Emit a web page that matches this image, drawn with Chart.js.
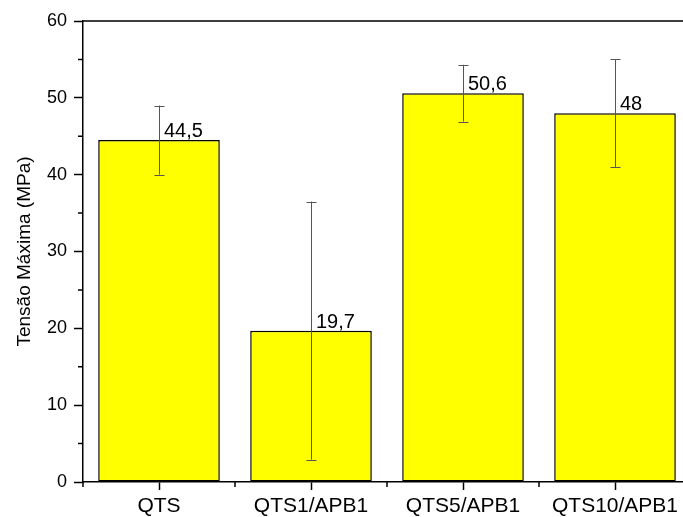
<!DOCTYPE html>
<html>
<head>
<meta charset="utf-8">
<script src="https://cdn.jsdelivr.net/npm/chart.js@4"></script>
<style>
  html, body { margin: 0; padding: 0; background: #fff; overflow: hidden; }
  canvas { display: block; }
</style>
</head>
<body>
<canvas id="barChart" width="700" height="517"></canvas>
<script>
var categories = ["QTS", "QTS1/APB1", "QTS5/APB1", "QTS10/APB1"];
var tensao = [44.5, 19.7, 50.6, 48];
var desvio = [4.5, 16.8, 3.7, 7];
var valueLabels = ["44,5", "19,7", "50,6", "48"];

var FONT = "'Liberation Sans', Arial, sans-serif";

var extras = {
  id: "extras",
  afterDatasetsDraw: function (chart) {
    var ctx = chart.ctx;
    var x = chart.scales.x, y = chart.scales.y;
    var area = chart.chartArea;
    ctx.save();

    // error bars
    ctx.strokeStyle = "#555";
    ctx.lineWidth = 1;
    tensao.forEach(function (v, i) {
      var cx = Math.round(x.getPixelForValue(i)) + 0.5;
      var top = y.getPixelForValue(v + desvio[i]);
      var bot = y.getPixelForValue(v - desvio[i]);
      ctx.beginPath();
      ctx.moveTo(cx, top); ctx.lineTo(cx, bot);
      ctx.moveTo(cx - 5, Math.round(top) + 0.5); ctx.lineTo(cx + 5, Math.round(top) + 0.5);
      ctx.moveTo(cx - 5, Math.round(bot) + 0.5); ctx.lineTo(cx + 5, Math.round(bot) + 0.5);
      ctx.stroke();
    });

    // value labels
    ctx.fillStyle = "#000";
    ctx.font = "20px " + FONT;
    ctx.textAlign = "left";
    ctx.textBaseline = "alphabetic";
    tensao.forEach(function (v, i) {
      var cx = x.getPixelForValue(i);
      ctx.fillText(valueLabels[i], cx + 5, y.getPixelForValue(v) - 3);
    });

    // top and right frame
    ctx.strokeStyle = "#000";
    ctx.lineWidth = 1.5;
    ctx.beginPath();
    ctx.moveTo(area.left, area.top);
    ctx.lineTo(area.right, area.top);
    ctx.lineTo(area.right, area.bottom);
    ctx.stroke();

    // minor ticks
    ctx.beginPath();
    for (var m = 5; m < 60; m += 10) {
      var py = y.getPixelForValue(m);
      ctx.moveTo(area.left, py); ctx.lineTo(area.left - 5, py);
    }
    for (var k = 0; k <= categories.length; k++) {
      var px = x.getPixelForValue(k - 0.5);
      ctx.moveTo(px, area.bottom); ctx.lineTo(px, area.bottom + 5);
    }
    ctx.stroke();
    ctx.restore();
  }
};

var ctx = document.getElementById("barChart").getContext("2d");
var barChart = new Chart(ctx, {
  type: "bar",
  data: {
    labels: categories,
    datasets: [
      {
        data: tensao,
        backgroundColor: "#ffff00",
        borderColor: "#000",
        borderWidth: 1.5,
        borderSkipped: false,
        categoryPercentage: 1,
        barPercentage: 0.8,
      },
    ],
  },
  options: {
    responsive: false,
    animation: false,
    layout: { padding: { top: 21, right: 9, left: 0, bottom: 0 } },
    plugins: {
      legend: { display: false },
      tooltip: { enabled: false },
    },
    scales: {
      x: {
        offset: true,
        grid: { display: true, drawOnChartArea: false, offset: false, tickLength: 8, tickColor: "#000", tickWidth: 1.5 },
        border: { color: "#000", width: 1.5 },
        ticks: { color: "#000", font: { family: FONT, size: 21 }, padding: 4, maxRotation: 0 },
        afterFit: function (s) { s.height = 35; },
      },
      y: {
        min: 0,
        max: 60,
        grid: { display: true, drawOnChartArea: false, tickLength: 9, tickColor: "#000", tickWidth: 1.5 },
        border: { color: "#000", width: 1.5 },
        ticks: { stepSize: 10, color: "#000", font: { family: FONT, size: 18 }, padding: 7 },
        title: {
          display: true,
          text: "Tensão Máxima (MPa)",
          color: "#000",
          font: { family: FONT, size: 19 },
          padding: { top: 13, bottom: 0 },
        },
        afterFit: function (s) { s.width = 83; },
      },
    },
  },
  plugins: [extras],
});
</script>
</body>
</html>
